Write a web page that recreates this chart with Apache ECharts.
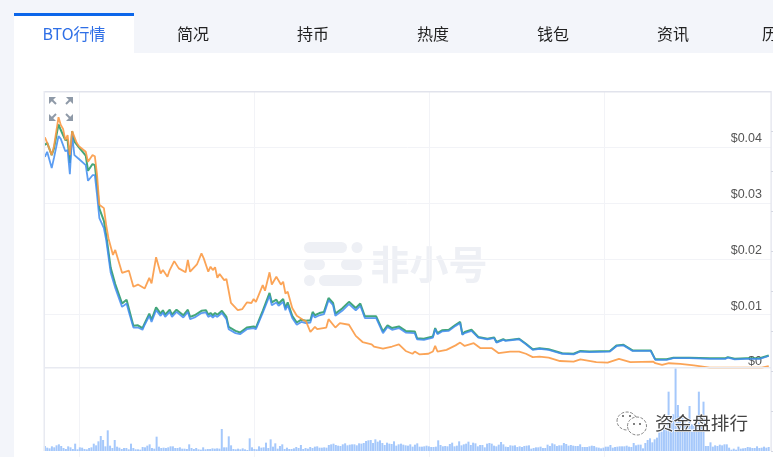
<!DOCTYPE html>
<html><head><meta charset="utf-8">
<style>html,body{margin:0;padding:0;background:#fff;overflow:hidden}#c{width:773px;height:457px}</style>
<script src="https://cdn.jsdelivr.net/npm/echarts@6/dist/echarts.min.js"></script>
</head><body><div id="c"></div>
<script>
const tabs = ['BTO行情','简况','持币','热度','钱包','资讯','历史行情'];
const gridDays = [15,92.3,169.4,246.7];

const orangeDays = [0,1,3,4,6,7,8,9,10,11,12,14,15,18,19,21,22,23,24,26,27,28,30,31,34,37,39,41,44,46,47,49,51,52,54,55,57,59,62,63,64,67,69,70,72,73,74,75,76,77,79,80,82,85,87,89,91,92,93,96,97,99,100,102,104,105,106,107,109,111,114,115,117,119,120,124,125,128,130,134,137,140,144,145,149,153,156,159,162,163,165,169,171,172,173,177,181,183,185,189,192,197,200,205,209,212,215,218,222,227,233,236,243,248,253,258,268,269,272,275,280,286,293,300,308,316,319];
const orangePrice = [.0418,.0408,.0386,.0402,.0454,.0440,.0433,.0413,.0422,.0386,.0429,.0408,.0402,.0392,.0374,.0386,.0384,.0350,.0297,.0291,.0261,.0237,.0207,.0216,.0175,.0179,.0150,.0154,.0147,.0166,.0156,.0203,.0174,.0180,.0168,.0180,.0196,.0183,.0176,.0198,.0177,.0190,.0210,.0201,.0177,.0186,.0180,.0185,.0166,.0173,.0162,.0164,.0121,.0108,.0110,.0122,.0121,.0128,.0123,.0153,.0143,.0176,.0154,.0168,.0154,.0159,.0138,.0141,.0112,.0098,.0090,.0089,.0069,.0078,.0074,.0077,.0092,.0077,.0085,.0082,.0062,.0051,.0047,.0043,.0039,.0043,.0047,.0035,.0030,.0034,.0029,.0030,.0034,.0044,.0034,.0037,.0045,.0050,.0044,.0049,.0040,.0040,.0031,.0034,.0034,.0030,.0024,.0025,.0023,.0017,.0016,.0020,.0015,.0014,.0021,.0015,.0016,.0013,.0010,.0013,.0012,.0009,.0005,.0005,.0005,.0005,.0008];

const priceDays = [0,1,3,4,6,7,9,10,11,12,13,15,18,19,21,22,23,24,26,27,29,31,34,36,37,39,41,43,44,46,47,49,51,52,53,55,56,58,61,63,64,66,69,71,72,73,74,75,76,78,80,81,84,86,89,92,93,96,99,100,102,103,105,106,107,109,111,113,115,117,118,119,121,123,125,127,128,131,134,137,139,141,146,149,151,153,156,159,163,164,167,171,172,173,175,178,181,183,184,185,188,191,195,198,199,202,203,209,212,215,218,222,228,233,236,240,249,252,255,259,267,269,274,277,284,293,300,301,304,309,315,319];
const bluePrice = [.0383,.0392,.0363,.0381,.0420,.0415,.0393,.0395,.0352,.0422,.0386,.0379,.0368,.0340,.0350,.0350,.0314,.0273,.0255,.0234,.0175,.0148,.0114,.0120,.0105,.0077,.0077,.0073,.0082,.0098,.0087,.0108,.0098,.0104,.0096,.0105,.0096,.0105,.0095,.0105,.0092,.0095,.0103,.0104,.0096,.0099,.0095,.0099,.0096,.0103,.0092,.0074,.0067,.0065,.0074,.0076,.0074,.0103,.0134,.0117,.0122,.0116,.0123,.0108,.0117,.0094,.0082,.0087,.0085,.0086,.0101,.0095,.0099,.0101,.0126,.0117,.0098,.0107,.0119,.0108,.0116,.0094,.0094,.0067,.0078,.0073,.0076,.0068,.0067,.0056,.0055,.0059,.0074,.0065,.0070,.0071,.0080,.0085,.0064,.0067,.0071,.0059,.0056,.0058,.0050,.0055,.0053,.0056,.0047,.0037,.0039,.0037,.0030,.0029,.0034,.0033,.0034,.0044,.0045,.0035,.0035,.0019,.0019,.0022,.0022,.0021,.0021,.0023,.0020,.0021,.0021,.0026];
const greenPrice = [.0404,.0408,.0386,.0398,.0441,.0431,.0413,.0413,.0372,.0429,.0410,.0400,.0385,.0358,.0370,.0368,.0332,.0290,.0268,.0243,.0184,.0155,.0120,.0127,.0111,.0080,.0081,.0076,.0085,.0102,.0091,.0113,.0102,.0108,.0100,.0109,.0100,.0109,.0099,.0109,.0096,.0099,.0107,.0108,.0100,.0103,.0099,.0103,.0100,.0107,.0096,.0078,.0071,.0068,.0077,.0079,.0077,.0107,.0139,.0122,.0127,.0120,.0128,.0112,.0122,.0098,.0086,.0091,.0089,.0090,.0105,.0099,.0103,.0105,.0130,.0121,.0102,.0111,.0123,.0112,.0120,.0097,.0097,.0070,.0081,.0076,.0079,.0071,.0070,.0058,.0057,.0061,.0076,.0067,.0072,.0073,.0082,.0087,.0065,.0069,.0073,.0060,.0057,.0059,.0051,.0056,.0054,.0057,.0048,.0038,.0040,.0038,.0031,.0030,.0035,.0034,.0035,.0045,.0046,.0036,.0036,.0020,.0020,.0023,.0023,.0022,.0022,.0024,.0021,.0022,.0022,.0027];

const volumes = [15,10,8,14,11,17,20,15,9,6,14,11,6,22,5,11,10,6,5,9,11,22,17,29,45,33,14,62,16,9,33,13,10,6,9,9,5,22,9,5,5,4,12,11,16,20,9,7,43,13,9,10,9,11,14,14,9,9,11,7,7,6,20,9,6,9,5,4,11,5,6,6,8,7,8,7,66,11,11,44,17,6,5,7,5,8,5,3,38,11,6,5,14,10,11,25,9,35,13,23,7,15,
20,6,10,6,6,8,12,9,18,6,9,7,12,9,13,14,10,10,11,10,18,20,22,18,16,15,20,23,17,19,20,20,17,23,22,24,30,32,33,24,35,28,32,24,18,25,22,21,29,16,20,22,19,17,16,20,13,19,23,13,13,14,16,14,12,12,13,32,18,14,15,14,21,25,14,16,29,17,20,22,28,18,25,23,14,18,18,11,22,24,22,16,14,19,27,20,13,12,17,16,17,12,14,
12,15,16,17,7,9,11,11,13,9,9,19,15,23,20,15,17,17,24,21,16,18,16,15,15,20,12,12,12,14,16,15,11,10,8,10,13,13,18,10,12,13,14,14,14,16,13,12,24,17,19,19,8,24,33,38,26,35,40,55,58,78,70,178,90,110,248,138,105,100,85,70,135,80,75,70,178,75,148,15,15,26,13,17,15,19,17,20,20,10,4,7,4,13,7,8,9,12,11,9,9,14,9,10,13,10,12];

const toPairs = (days, vals) => days.map((d, k) => [d, vals[k]]);
const volStep = 320 / volumes.length;

const CJK = '"Noto Sans CJK SC","Noto Sans",sans-serif';
const els = [];
function rect(x,y,w,h,fill,z,r){els.push({type:'rect',z:z||-5,silent:true,shape:{x,y,width:w,height:h,r:r||0},style:{fill}});}
function text(t,x,y,font,fill,extra){els.push({type:'text',z:(extra&&extra.z)||5,silent:true,style:Object.assign({text:t,x,y,font,fill,textAlign:'center',textVerticalAlign:'middle'},extra||{})});}

// page chrome
rect(0,0,773,53,'#f3f5fa');
rect(0,0,14,457,'#f3f5fa');
rect(14,13,120,40,'#ffffff',-4);
rect(14,13,120,3,'#0b66ea',-3);
const tabX=[74,193,313,433,553,673,794];
tabs.forEach((t,i)=>text(t,tabX[i],34,'16px '+CJK,i===0?'#2f6fe6':'#222'));

// 非小号 watermark
const wm='#eef0f5';
rect(304,242,43,11,wm,-2,5.5);
els.push({type:'circle',z:-2,silent:true,shape:{cx:357,cy:247.5,r:5.5},style:{fill:wm}});
rect(304,259,21,11,wm,-2,5.5);
rect(341,259,21,11,wm,-2,5.5);
els.push({type:'circle',z:-2,silent:true,shape:{cx:309.5,cy:280.5,r:5.5},style:{fill:wm}});
rect(319,275,43,11,wm,-2,5.5);
text('非小号',429,264,'bold 39px '+CJK,wm,{z:-2});

// frame
const fr='#e1e3ec';
rect(44,91,727,1.5,fr,20);
rect(43.5,91,1.5,360,'#e8eaf1',20);
rect(44,367,727,1.5,'#e8eaf1',20);
rect(770.5,91,1.2,360,fr,20);
for(let y=131;y<457;y+=40) rect(771,y,2,1,'#d5d8e2',20);

// expand icon
const ic='#8f9aa8';
[[49,97,1,1],[73,97,-1,1],[49,121,1,-1],[73,121,-1,-1]].forEach(([x,y,a,b])=>{
 els.push({type:'polygon',z:30,silent:true,shape:{points:[[x,y],[x+7*a,y],[x,y+7*b]]},style:{fill:ic}});
 els.push({type:'line',z:30,silent:true,shape:{x1:x+2*a,y1:y+2*b,x2:x+7*a,y2:y+7*b},style:{stroke:ic,lineWidth:2}});
});

// WeChat watermark
const st='#555';
els.push({type:'ellipse',z:40,silent:true,shape:{cx:627,cy:421,rx:10,ry:9},style:{fill:'rgba(255,255,255,.9)',stroke:st,lineWidth:.7,lineDash:[3,1.5]}});
els.push({type:'ellipse',z:41,silent:true,shape:{cx:637,cy:426,rx:9.5,ry:9},style:{fill:'rgba(255,255,255,.95)',stroke:st,lineWidth:.7,lineDash:[3,1.5]}});
[[623,416],[630,416],[634,424],[640,424]].forEach(([cx,cy])=>els.push({type:'circle',z:42,silent:true,shape:{cx,cy,r:.9},style:{fill:'#444'}}));
text('资金盘排行',701.5,423,'18.6px '+CJK,'#444',{z:43,stroke:'#fff',lineWidth:1.5});

const lineSeries=(name,days,vals,color,op,width,z)=>({name,type:'line',xAxisIndex:0,yAxisIndex:0,data:toPairs(days,vals),showSymbol:false,z,
  lineStyle:{color,width,opacity:op},itemStyle:{color},silent:true,animation:false});

const chart=echarts.init(document.getElementById('c'),null,{renderer:'canvas'});
chart.setOption({
 animation:false,
 backgroundColor:'#ffffff',
 grid:[{left:44,right:2,top:91.5,height:279},{left:44,right:2,top:368,height:89}],
 xAxis:[0,1].map(g=>({type:'value',gridIndex:g,min:-0.4,max:320,
   axisLine:{show:false},axisLabel:{show:false},
   axisTick:{show:false,customValues:gridDays},
   splitLine:{show:true,lineStyle:{color:'#f2f3f7',width:1}}})),
 yAxis:[
  {type:'value',gridIndex:0,position:'right',min:0,max:0.05,interval:0.01,
   axisLine:{show:false},axisTick:{show:false},
   axisLabel:{inside:true,margin:9,showMaxLabel:false,verticalAlign:'bottom',padding:[0,0,2,0],color:'#555',fontSize:12.5,fontFamily:'"Liberation Sans",Arial,sans-serif',
     formatter:v=>'$'+(+v.toFixed(2))},
   splitLine:{show:true,showMinLine:false,showMaxLine:false,lineStyle:{color:'#f2f3f7',width:1}}},
  {type:'value',gridIndex:1,min:-18,max:249,axisLine:{show:false},axisTick:{show:false},axisLabel:{show:false},splitLine:{show:false}}
 ],
 graphic:{elements:els},
 series:[
  {name:'成交量',type:'bar',xAxisIndex:1,yAxisIndex:1,barWidth:2,z:1,silent:true,
   data:volumes.map((v,k)=>[k*volStep,v]),itemStyle:{color:'#a5c8fb'}},
  lineSeries('BTC',priceDays,greenPrice,'#2f9c6c',.9,2,3),
  lineSeries('USD',priceDays,bluePrice,'#3f8cf0',.85,1.8,4),
  lineSeries('ETH',orangeDays,orangePrice,'#fb9a45',.9,1.8,5)
 ]
});
</script></body></html>
